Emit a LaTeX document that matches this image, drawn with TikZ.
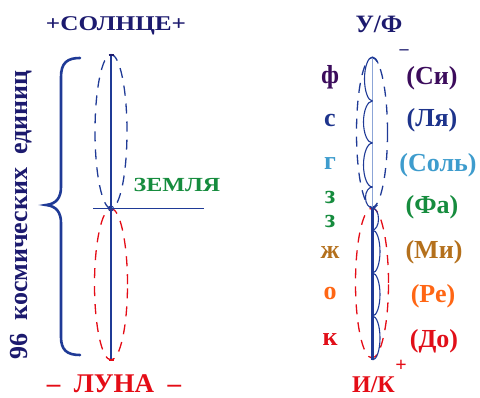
\documentclass[tikz,border=0pt]{standalone}
\usepackage{fontspec}
\setmainfont{Liberation Serif}
\newfontfamily\stretchfont[FakeStretch=1.2]{Liberation Serif}
\definecolor{sNavy}{RGB}{28,26,110}
\definecolor{sBlue}{RGB}{31,58,150}
\definecolor{sPale}{RGB}{140,165,215}
\definecolor{sGreen}{RGB}{22,140,62}
\definecolor{sRed}{RGB}{228,12,22}
\definecolor{nSi}{RGB}{60,12,92}
\definecolor{nLa}{RGB}{30,52,140}
\definecolor{nSol}{RGB}{62,156,205}
\definecolor{nFa}{RGB}{22,140,62}
\definecolor{nMi}{RGB}{180,112,28}
\definecolor{nRe}{RGB}{255,102,20}
\definecolor{nDo}{RGB}{225,15,25}
\tikzset{
  big/.style={font=\bfseries\fontsize{26}{30}\selectfont, inner sep=0pt, anchor=base},
  title/.style={font=\stretchfont\bfseries\fontsize{21}{25}\selectfont, inner sep=0pt, anchor=base},
  axis/.style={draw=sBlue, line width=1.8pt},
  halo/.style={dash pattern=on 10pt off 8pt, line width=1.3pt},
  wave/.style={draw=sBlue, line width=1.1pt},
}

\begin{document}
\begin{tikzpicture}[x=1pt,y=1pt]
  \useasboundingbox (0,0) rectangle (480,397);

  % left column -- Sun, Earth, Moon on one axis
  \coordinate (sun) at (111,342);
  \coordinate (moon) at (111,37);
  \coordinate (earth) at (111,188.5);
  \coordinate (eW) at (93,188.5);
  \coordinate (eE) at (204,188.5);
  \draw[halo, draw=sBlue] (111,265.5) ellipse [x radius=16, y radius=77];
  \draw[halo, draw=sRed] (111,112.75) ellipse [x radius=16.5, y radius=75.75];
  \draw[axis] (sun) -- (moon);
  \draw[axis] (eW) -- (eE);
  \draw[sBlue, line width=1pt] (earth) circle (2.5);
  \draw[sNavy, line width=1.6pt] ([xshift=-2.5]sun) -- ([xshift=2.5]sun);
  \draw[sRed, line width=1.6pt] ([xshift=-2.5]moon) -- ([xshift=2.5]moon);

  % brace and its caption
  \draw[sBlue, line width=2.6pt, line cap=round] (80,339) .. controls (67,339) and (61,334) .. (61,320)
    -- (61,210) .. controls (61,199) and (56,193) .. (46,192) .. controls (56,191) and (61,185) .. (61,174)
    -- (61,60) .. controls (61,47) and (67,42) .. (80,42);
  \node[big, text=sNavy, rotate=90] (units) at (27,182) {96\ \ космических\ \ единиц};

  % left labels
  \node[title, text=sNavy] (sunlbl) at (116,366) {+СОЛНЦЕ+};
  \node[title, text=sGreen, font=\stretchfont\bfseries\fontsize{20}{24}\selectfont] (earthlbl) at (177,205) {ЗЕМЛЯ};
  \node[big, text=sRed, font=\bfseries\fontsize{27}{30}\selectfont] (moonlbl) at (114,5) {–\ \ ЛУНА\ \ –};

  % right column -- the octave
  \coordinate (uf) at (372.5,340);
  \coordinate (fa) at (372.5,189);
  \coordinate (ik) at (372.5,37);
  \draw[halo, draw=sBlue] (372,264.5) ellipse [x radius=15.5, y radius=75];
  \draw[halo, draw=sRed] (372,114) ellipse [x radius=16.5, y radius=75];
  \draw[sPale, line width=0.8pt] (uf) -- (fa);
  \draw[sBlue, line width=2.4pt] (fa) -- (ik);

  % scallops, one per note
  \coordinate (k1) at (372.5,296);
  \coordinate (k2) at (372.5,254);
  \coordinate (k3) at (372.5,210);
  \coordinate (k5) at (372.5,167);
  \coordinate (k6) at (372.5,124);
  \coordinate (k7) at (372.5,81);
  \draw[wave] (k1) arc[start angle=270, end angle=45, x radius=8, y radius=22];
  \draw[wave] (k1) arc[start angle=90, end angle=270, x radius=9, y radius=21];
  \draw[wave] (k2) arc[start angle=90, end angle=270, x radius=9, y radius=22];
  \draw[wave] (k3) arc[start angle=90, end angle=315, x radius=7, y radius=10.5];
  \draw[wave] (fa) arc[start angle=90, end angle=-90, x radius=6, y radius=11];
  \draw[wave] (k5) arc[start angle=90, end angle=-90, x radius=7.5, y radius=21.5];
  \draw[wave] (k6) arc[start angle=90, end angle=-90, x radius=7.5, y radius=21.5];
  \draw[wave] (k7) arc[start angle=90, end angle=-90, x radius=7.5, y radius=22];

  % right end labels
  \node[big, text=sNavy, font=\bfseries\fontsize{25}{30}\selectfont] (uflbl) at (379,364) {У/Ф};
  \node[text=sNavy, font=\bfseries\fontsize{18}{20}\selectfont, inner sep=0pt] (minus) at (404,345) {–};
  \node[text=sRed, font=\bfseries\fontsize{20}{22}\selectfont, inner sep=0pt] (plus) at (401,31) {+};
  \node[big, text=sRed, font=\bfseries\fontsize{24}{30}\selectfont] (iklbl) at (373.5,5) {И/К};

  % letters
  \node[big, text=nSi] (lf) at (330,313) {ф};
  \node[big, text=nLa] (ls) at (330,270) {с};
  \node[big, text=nSol] (lg) at (330,227) {г};
  \node[big, text=nFa] (lz1) at (330,193) {з};
  \node[big, text=nFa] (lz2) at (330,169) {з};
  \node[big, text=nMi] (lzh) at (330,139) {ж};
  \node[big, text=nRe] (lo) at (330,97) {о};
  \node[big, text=nDo] (lk) at (330,52) {к};

  % notes
  \node[big, text=nSi] (nsi) at (432,312) {(Си)};
  \node[big, text=nLa] (nla) at (432,270) {(Ля)};
  \node[big, text=nSol] (nsol) at (438,225) {(Соль)};
  \node[big, text=nFa] (nfa) at (432,183) {(Фа)};
  \node[big, text=nMi] (nmi) at (434,139) {(Ми)};
  \node[big, text=nRe] (nre) at (433,95) {(Ре)};
  \node[big, text=nDo] (ndo) at (434,50) {(До)};
\end{tikzpicture}
\end{document}
